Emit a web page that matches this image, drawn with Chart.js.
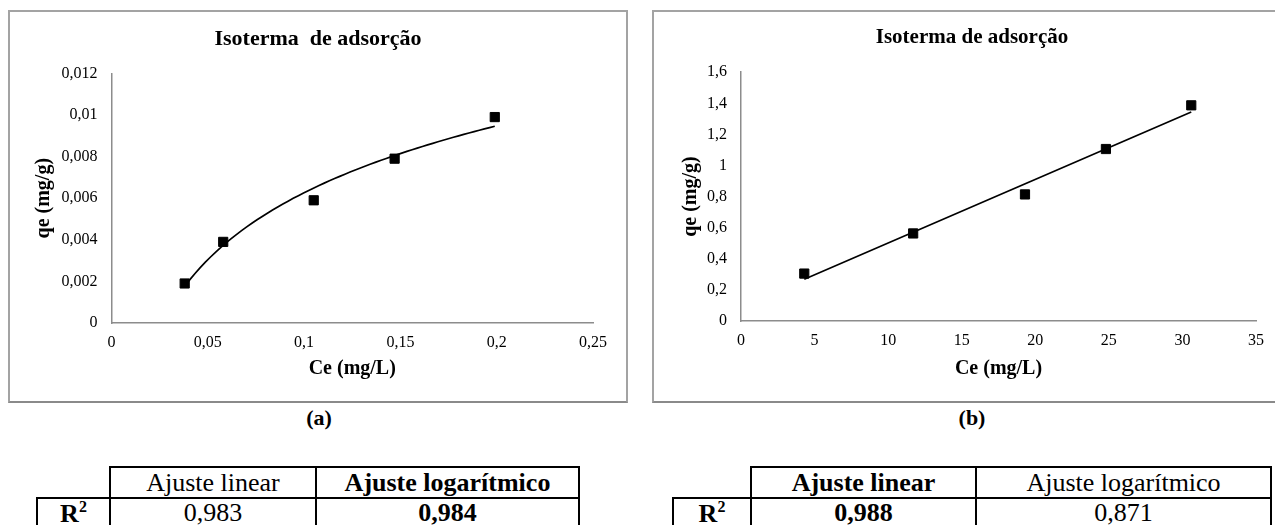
<!DOCTYPE html>
<html>
<head>
<meta charset="utf-8">
<script src="https://cdn.jsdelivr.net/npm/chart.js@4.4.1/dist/chart.umd.min.js"></script>
<style>
  body { margin: 0; width: 1275px; height: 525px; overflow: hidden; background: #fff; position: relative; font-family: 'Liberation Serif', 'Times New Roman', serif; }
  .panel { position: absolute; border: 2px solid #a3a3a3; border-bottom: 2px solid #8a8a8a; }
  .panel canvas { position: absolute; left: 0; top: 0; }
  .caption { position: absolute; top: 405px; font-weight: bold; font-size: 22px; transform: translateX(-50%); }
  table { position: absolute; border-collapse: collapse; table-layout: fixed; font-size: 26px; }
  td { border: 2px solid #000; text-align: center; padding: 0; line-height: 1; }
  td.blank { border-top: none; border-left: none; }
  td.b { font-weight: bold; }
  sup { font-size: 16px; vertical-align: 10px; }
</style>
</head>
<body>
<div class="panel" style="left:8px; top:10px; width:616px; height:389px;">
  <canvas id="chartA" width="616" height="389"></canvas>
</div>
<div class="panel" style="left:652px; top:10px; width:636px; height:389px;">
  <canvas id="chartB" width="636" height="389"></canvas>
</div>
<div class="caption" style="left:319px;">(a)</div>
<div class="caption" style="left:972px;">(b)</div>
<table id="tableA" style="left:36px; top:466px; width:542px;"></table>
<table id="tableB" style="left:672px; top:466px; width:598px;"></table>

<script>
// (a) data
const ceA = [0.038, 0.058, 0.105, 0.147, 0.199];
const qeA = [0.0019, 0.0039, 0.0059, 0.0079, 0.0099];
const xTicksA = [0, 0.05, 0.1, 0.15, 0.2, 0.25];
const yTicksA = [0, 0.002, 0.004, 0.006, 0.008, 0.01, 0.012];

// (b) data
const ceB = [4.3, 11.7, 19.3, 24.8, 30.6];
const qeB = [0.305, 0.563, 0.814, 1.106, 1.387];
const xTicksB = [0, 5, 10, 15, 20, 25, 30, 35];
const yTicksB = [0, 0.2, 0.4, 0.6, 0.8, 1, 1.2, 1.4, 1.6];

// R² tables
const fitNames = ['Ajuste linear', 'Ajuste logarítmico'];
const r2A = ['0,983', '0,984'];
const r2B = ['0,988', '0,871'];
const bestA = 1;  // logarithmic wins
const bestB = 0;  // linear wins

// least squares fit y = a*x + b
function fitLinear(xs, ys) {
  const n = xs.length;
  const mx = xs.reduce((s, v) => s + v, 0) / n;
  const my = ys.reduce((s, v) => s + v, 0) / n;
  let sxy = 0, sxx = 0;
  for (let i = 0; i < n; i++) {
    sxy += (xs[i] - mx) * (ys[i] - my);
    sxx += (xs[i] - mx) * (xs[i] - mx);
  }
  const a = sxy / sxx;
  return { a: a, b: my - a * mx };
}

const logFit = fitLinear(ceA.map(Math.log), qeA);
const trendA = [];
const x0 = Math.min(...ceA), x1 = Math.max(...ceA);
for (let i = 0; i <= 60; i++) {
  const x = x0 + (x1 - x0) * i / 60;
  trendA.push({ x: x, y: logFit.a * Math.log(x) + logFit.b });
}

const linFit = fitLinear(ceB, qeB);
const xb0 = Math.min(...ceB), xb1 = Math.max(...ceB);
const trendB = [
  { x: xb0, y: linFit.a * xb0 + linFit.b },
  { x: xb1, y: linFit.a * xb1 + linFit.b }
];

const serif = 'Liberation Serif';
const fmt = v => String(Number(v.toFixed(4))).replace('.', ',');

function makeChart(id, cfg) {
  const ctx = document.getElementById(id).getContext('2d');
  return new Chart(ctx, {
    type: 'scatter',
    data: {
      datasets: [
        {
          data: cfg.trend,
          showLine: true,
          borderColor: '#000',
          borderWidth: 1.7,
          pointRadius: 0,
          tension: 0,
        },
        {
          data: cfg.xs.map((x, i) => ({ x: x, y: cfg.ys[i] })),
          pointStyle: 'rect',
          pointRadius: 6.5,
          backgroundColor: '#000',
          borderColor: '#000',
          borderWidth: 1,
        }
      ]
    },
    options: {
      responsive: false,
      animation: false,
      devicePixelRatio: 1,
      layout: { padding: 0 },
      plugins: {
        legend: { display: false },
        tooltip: { enabled: false },
        title: {
          display: true,
          text: cfg.title,
          color: '#000',
          font: { family: serif, size: cfg.titleSize, weight: 'bold' },
          padding: cfg.titlePad,
        }
      },
      scales: {
        x: {
          type: 'linear',
          min: cfg.xTicks[0],
          max: cfg.xTicks[cfg.xTicks.length - 1],
          afterBuildTicks: s => { s.ticks = cfg.xTicks.map(v => ({ value: v })); },
          afterFit: s => { s.height = cfg.xHeight; s.paddingRight = cfg.rightGap; },
          grid: { display: false, drawTicks: false },
          border: { color: '#8c8c8c', width: 1.5 },
          ticks: { color: '#000', font: { family: serif, size: 16 }, padding: 10, maxRotation: 0, autoSkip: false, callback: fmt },
          title: { display: true, text: 'Ce (mg/L)', color: '#000', font: { family: serif, size: 20, weight: 'bold' }, padding: { top: 0, bottom: 20 } }
        },
        y: {
          type: 'linear',
          min: cfg.yTicks[0],
          max: cfg.yTicks[cfg.yTicks.length - 1],
          afterBuildTicks: s => { s.ticks = cfg.yTicks.map(v => ({ value: v })); },
          afterFit: s => { s.width = cfg.yWidth; },
          grid: { display: false, drawTicks: false },
          border: { color: '#8c8c8c', width: 1.5 },
          ticks: { color: '#000', font: { family: serif, size: 16 }, padding: 14, callback: fmt },
          title: { display: true, text: 'qe (mg/g)', color: '#000', font: { family: serif, size: 20, weight: 'bold' }, padding: { top: cfg.yTitlePad, bottom: 0 } }
        }
      }
    }
  });
}

makeChart('chartA', {
  title: 'Isoterma  de adsorção', titleSize: 22, titlePad: { top: 14, bottom: 21 },
  xs: ceA, ys: qeA, trend: trendA, xTicks: xTicksA, yTicks: yTicksA,
  xHeight: 78, yWidth: 101.5, rightGap: 33, yTitlePad: 22
});

makeChart('chartB', {
  title: 'Isoterma de adsorção', titleSize: 21, titlePad: { top: 13, bottom: 22 },
  xs: ceB, ys: qeB, trend: trendB, xTicks: xTicksB, yTicks: yTicksB,
  xHeight: 80, yWidth: 87, rightGap: 34, yTitlePad: 25
});

function buildTable(id, widths, values, best) {
  const t = document.getElementById(id);
  let html = '<colgroup>' + widths.map(w => '<col style="width:' + w + 'px">').join('') + '</colgroup>';
  html += '<tr style="height:31px"><td class="blank"></td>' +
    fitNames.map((n, i) => '<td' + (i === best ? ' class="b"' : '') + '>' + n + '</td>').join('') + '</tr>';
  html += '<tr style="height:28px"><td class="b">R<sup>2</sup></td>' +
    values.map((v, i) => '<td' + (i === best ? ' class="b"' : '') + '>' + v + '</td>').join('') + '</tr>';
  t.innerHTML = html;
}
buildTable('tableA', [73, 206, 263], r2A, bestA);
buildTable('tableB', [78, 225, 295], r2B, bestB);
</script>
</body>
</html>
